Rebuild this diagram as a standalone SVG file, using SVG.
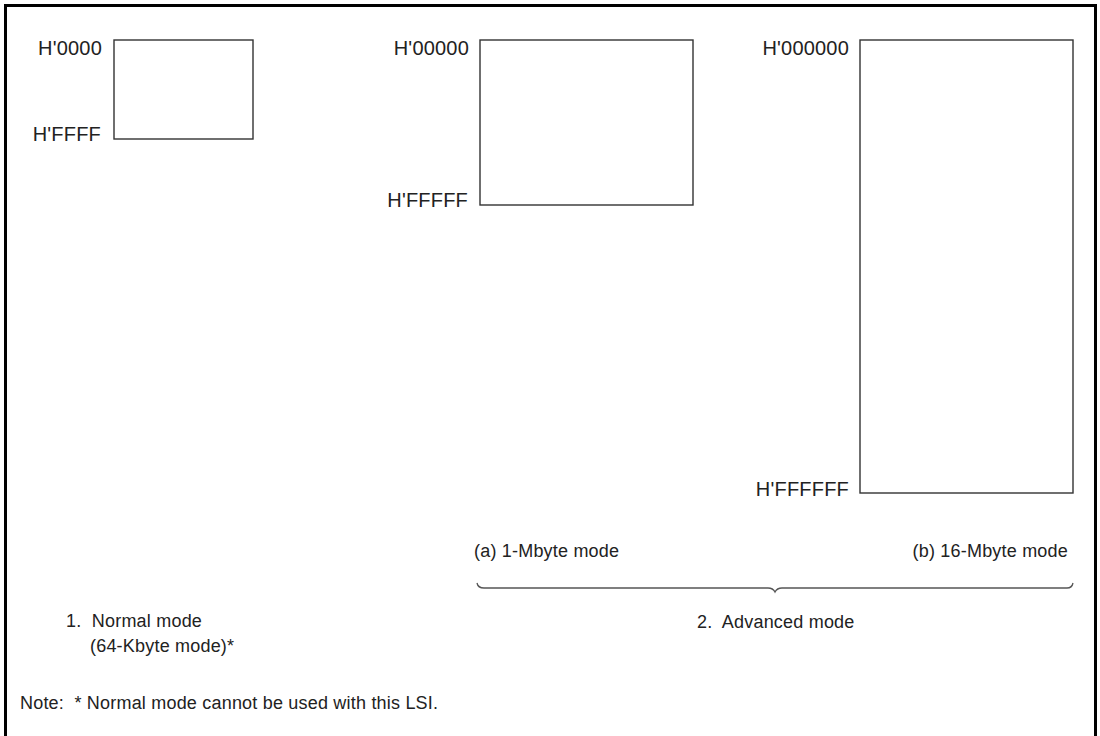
<svg xmlns="http://www.w3.org/2000/svg" width="1100" height="736" viewBox="0 0 1100 736" xml:space="preserve">
<style>
text{font-family:"Liberation Sans",Arial,sans-serif;font-size:18px;fill:#222;letter-spacing:0.2px;white-space:pre}
.h{font-size:20px}
.r{text-anchor:end}
.box{fill:#fff;stroke:#333;stroke-width:1.4}
.frame{fill:none;stroke:#000;stroke-width:3}
.brace{fill:none;stroke:#555;stroke-width:1.3}
</style>
<rect width="1100" height="736" fill="#fff"/>
<path class="frame" d="M5.5,740 V5.5 H1095.5 V740"/>
<g id="normal">
<rect class="box" x="114" y="40" width="139" height="99"/>
<text class="h r" x="102" y="55">H'0000</text>
<text class="h r" x="101" y="141">H'FFFF</text>
</g>
<g id="mode1m">
<rect class="box" x="480" y="40" width="213" height="165"/>
<text class="h r" x="469" y="55">H'00000</text>
<text class="h r" x="468" y="207">H'FFFFF</text>
</g>
<g id="mode16m">
<rect class="box" x="860" y="40" width="213" height="453"/>
<text class="h r" x="849" y="55">H'000000</text>
<text class="h r" x="849" y="496">H'FFFFFF</text>
</g>
<g id="labels">
<text x="474" y="557">(a) 1-Mbyte mode</text>
<text class="r" x="1068" y="557">(b) 16-Mbyte mode</text>
<text x="697" y="628">2.  Advanced mode</text>
<text x="66" y="627">1.  Normal mode</text>
<text x="90" y="652">(64-Kbyte mode)*</text>
<text x="20" y="709">Note:  * Normal mode cannot be used with this LSI.</text>
</g>
<g id="connectors">
<path class="brace" d="M477,583 Q478,588 484,588 H768 Q773,588 775,592 Q777,588 782,588 H1067 Q1072,588 1073,583"/>
</g>
</svg>
